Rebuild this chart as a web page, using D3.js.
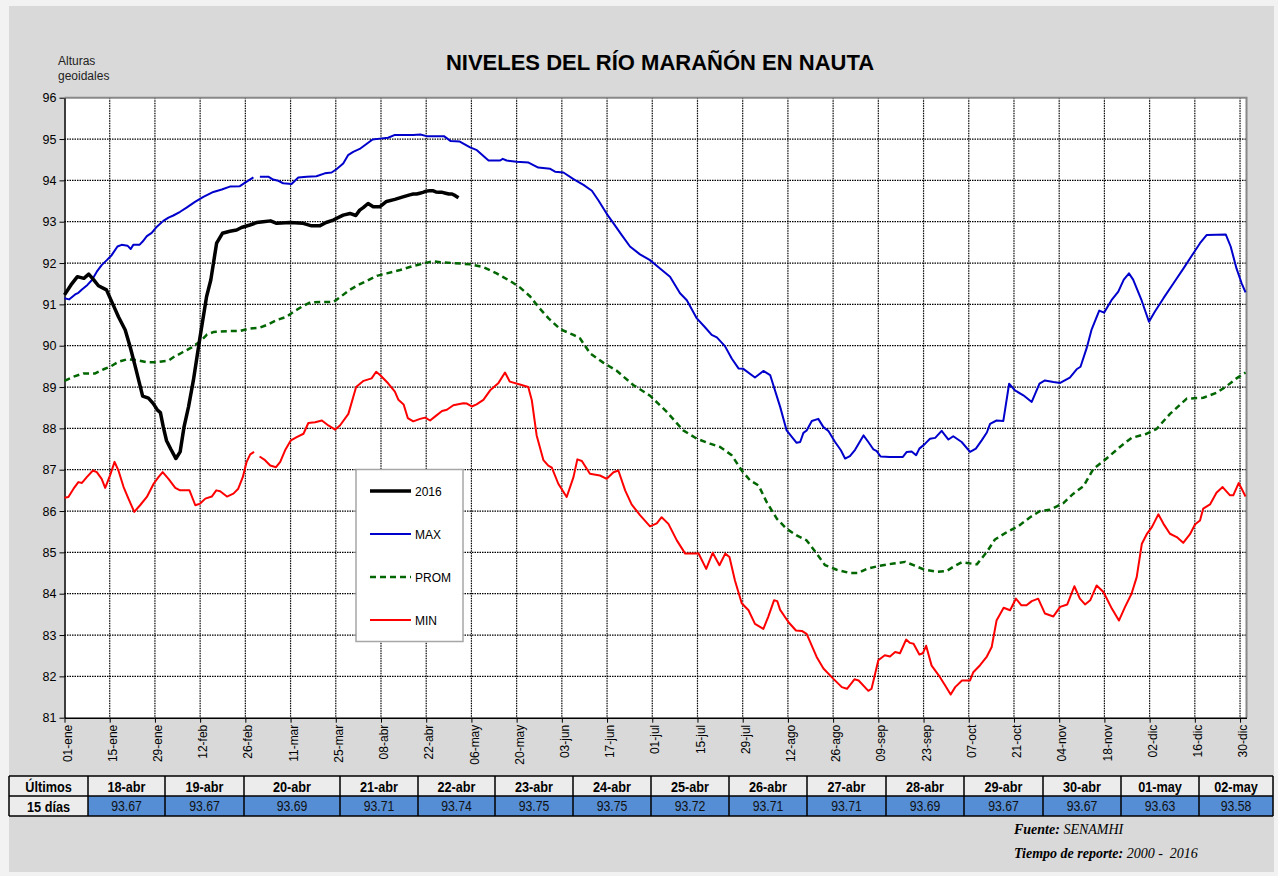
<!DOCTYPE html>
<meta charset="utf-8">
<html>
<head>
<script src="https://d3js.org/d3.v7.min.js"></script>
<style>
  body { margin: 0; background: #f2f2f2; }
  svg text { font-family: "Liberation Sans", Arial, sans-serif; }
</style>
</head>
<body>
<svg width="1278" height="876"></svg>
<script>

// x tick labels, one every 14 days (day 0 = 01-ene, leap year)
var tickLabels = ["01-ene","15-ene","29-ene","12-feb","26-feb","11-mar","25-mar","08-abr","22-abr",
  "06-may","20-may","03-jun","17-jun","01-jul","15-jul","29-jul","12-ago","26-ago","09-sep","23-sep",
  "07-oct","21-oct","04-nov","18-nov","02-dic","16-dic","30-dic"];

// last 15 days table
var tableDates = ["18-abr","19-abr","20-abr","21-abr","22-abr","23-abr","24-abr","25-abr","26-abr",
  "27-abr","28-abr","29-abr","30-abr","01-may","02-may"];
var tableDays = [108,109,110,111,112,113,114,115,116,117,118,119,120,121,122];
var tableValues = [93.67,93.67,93.69,93.71,93.74,93.75,93.75,93.72,93.71,93.71,93.69,93.67,93.67,93.63,93.58];

// 2016 levels (day, value), before the table period
var obs2016 = [[0,91.23],[2,91.47],[4,91.67],[6,91.63],[7.5,91.73],[9,91.6],[10.5,91.45],[13,91.35],
  [15,91.0],[16.7,90.7],[18.8,90.38],[20.3,89.98],[21.9,89.5],[24.2,88.78],[26,88.73],[27.5,88.6],
  [28.8,88.44],[29.7,88.38],[30.6,88.03],[31.6,87.7],[32.9,87.5],[34.5,87.27],[35.8,87.43],[37,88.03],
  [38.4,88.52],[39.9,89.16],[42,90.22],[44,91.19],[45.3,91.59],[47.1,92.48],[48.9,92.72],[51.2,92.77],
  [53.3,92.8],[54.8,92.86],[57.4,92.92],[59.5,92.98],[61.5,93.0],[63.8,93.02],[65.7,92.96],[69.8,92.98],
  [73.9,92.96],[76.5,92.9],[79,92.9],[81,92.98],[83.2,93.04],[86.3,93.16],[88.4,93.2],[90.2,93.15],
  [91.4,93.28],[92.5,93.34],[94,93.44],[95.6,93.36],[97.6,93.36],[99.7,93.49],[102.3,93.54],
  [104.8,93.6],[106.9,93.65]];

var maxPts = [[0,91.15],[1.4,91.12],[3.3,91.24],[4.3,91.28],[5.4,91.36],[7.1,91.47],[8.5,91.59],[10,91.79],
  [11.5,91.95],[13.1,92.07],[14.6,92.19],[16.4,92.4],[17.7,92.44],[19.5,92.42],[20.5,92.34],[21.3,92.44],
  [23.2,92.44],[24.2,92.52],[25.5,92.65],[27,92.73],[28.6,92.88],[30.6,93.02],[32.2,93.1],[33.7,93.15],
  [35.8,93.24],[37.8,93.34],[40.4,93.48],[43,93.6],[46.1,93.72],[48.7,93.78],[51.2,93.85],[54.3,93.86],
  [56.4,93.97],[58.5,94.07],[59,null],[60.5,94.09],[63.1,94.09],[64.6,94.02],[66.2,93.99],[67.7,93.93],
  [70.3,93.91],[72.4,94.07],[75,94.09],[78,94.1],[80.6,94.17],[82.7,94.19],[84.2,94.27],[86.3,94.41],
  [87.8,94.61],[89.4,94.69],[91.4,94.76],[93.5,94.88],[95.4,94.99],[97.6,95.01],[100.2,95.03],
  [102.3,95.1],[105.4,95.1],[108,95.1],[110.2,95.11],[112.1,95.07],[117.5,95.07],[119.6,94.95],
  [122.4,94.94],[125.6,94.8],[127.7,94.73],[131.3,94.48],[134.9,94.48],[135.7,94.52],[136.9,94.48],
  [140,94.45],[143.7,94.43],[146.7,94.31],[150.4,94.28],[151.9,94.21],[154.5,94.19],[157.6,94.03],
  [160.7,93.89],[163.3,93.75],[165.3,93.52],[167.9,93.19],[170,92.96],[172.5,92.68],[175.1,92.4],
  [178.2,92.21],[181.3,92.07],[184.4,91.87],[187.5,91.67],[190.6,91.27],[192.7,91.1],[195.8,90.66],
  [198.4,90.44],[200.4,90.26],[202,90.2],[204.5,89.99],[206.6,89.69],[208.7,89.45],[210.2,89.44],
  [213.8,89.23],[216.4,89.39],[218.5,89.29],[221.6,88.52],[223.6,87.95],[226.7,87.65],[227.8,87.67],
  [228.8,87.89],[229.8,87.95],[231.4,88.18],[233.4,88.23],[235,88.03],[236.5,87.94],[238.6,87.67],
  [240.4,87.47],[241.7,87.27],[243.2,87.33],[244.8,87.48],[247.4,87.83],[248.9,87.67],[250.5,87.49],
  [251.5,87.45],[252.7,87.32],[255.6,87.31],[259.6,87.31],[260.8,87.43],[262.3,87.44],[263.7,87.35],
  [264.7,87.51],[266.5,87.63],[268,87.75],[269.6,87.77],[271.6,87.94],[273.7,87.73],[275.2,87.81],
  [277.8,87.67],[280.4,87.43],[282.2,87.51],[284,87.71],[285.6,87.9],[286.6,88.11],[288.6,88.19],
  [290.7,88.18],[292.5,89.08],[294.3,88.92],[296.9,88.8],[299.5,88.64],[301.9,89.08],[303.6,89.16],
  [306.2,89.12],[308.3,89.1],[311.3,89.23],[313.4,89.43],[314.6,89.49],[316.5,89.94],[318,90.38],
  [320.4,90.85],[321.9,90.8],[324.2,91.1],[326.3,91.31],[328,91.6],[329.6,91.75],[330.9,91.6],
  [333.5,91.1],[335.8,90.58],[337.6,90.82],[340.3,91.15],[343.4,91.51],[346.5,91.87],[349.5,92.23],
  [351.6,92.48],[353.7,92.68],[359.6,92.69],[361.1,92.4],[362.9,91.87],[364.5,91.51],[365.7,91.29]];

var promPts = [[0,89.15],[2.8,89.25],[5.9,89.33],[9.5,89.33],[12.1,89.43],[14.1,89.49],[16.7,89.61],
  [19.3,89.67],[22.4,89.65],[25.5,89.6],[28.1,89.6],[32.2,89.64],[33.7,89.72],[36.3,89.83],[39.4,89.96],
  [42,90.1],[44.1,90.27],[46.1,90.33],[50.3,90.35],[54.4,90.36],[57,90.41],[60.6,90.44],[62.6,90.5],
  [65.7,90.62],[68.8,90.7],[70.9,90.82],[73.4,90.94],[76.1,91.05],[79.1,91.06],[83.3,91.06],[85.3,91.17],
  [87.9,91.33],[91,91.47],[93.6,91.57],[96.7,91.69],[99.8,91.75],[103.9,91.83],[108,91.93],[112.2,92.01],
  [114.2,92.04],[116.3,92.02],[120.4,92.0],[125.6,91.97],[129.7,91.9],[133.8,91.75],[137.9,91.57],
  [141,91.41],[144.2,91.19],[146.7,90.94],[149.9,90.66],[153.5,90.4],[157.6,90.26],[159.6,90.18],
  [162.8,89.81],[166.8,89.59],[170.9,89.4],[176.1,89.05],[181.3,88.79],[186.5,88.4],[191.6,87.95],
  [195.8,87.75],[199.9,87.63],[203,87.55],[206.6,87.35],[209.7,86.98],[212.3,86.74],[214.9,86.62],
  [217.4,86.22],[220.6,85.81],[223.6,85.57],[226.7,85.41],[229.8,85.29],[232.9,84.97],[235.5,84.69],
  [239.1,84.58],[243.2,84.5],[245.8,84.5],[248.4,84.6],[252,84.67],[256.7,84.73],[260.3,84.77],
  [262.9,84.69],[266,84.59],[270,84.53],[273.2,84.55],[275.2,84.65],[277.8,84.76],[282.5,84.71],
  [285.6,85.01],[288.1,85.31],[291.8,85.49],[295.3,85.63],[299,85.85],[302.1,86.0],[305.1,86.03],
  [309.3,86.19],[312.4,86.42],[315.5,86.6],[318.6,87.02],[322.2,87.24],[326.8,87.55],[330.4,87.77],
  [335.1,87.87],[338.2,87.99],[342.3,88.35],[347.5,88.72],[352.6,88.74],[356.7,88.86],[359.8,89.02],
  [362.9,89.21],[365.7,89.35]];

var minPts = [[0,86.32],[1.2,86.34],[2.8,86.54],[4.3,86.7],[5.4,86.68],[6.9,86.82],[8.8,86.98],[10,86.94],
  [11.5,86.78],[12.6,86.56],[14.1,86.86],[15.5,87.19],[16.7,86.98],[18.3,86.58],[19.8,86.3],[21.6,85.98],
  [23.4,86.14],[25.5,86.34],[27.6,86.66],[29.1,86.82],[30.4,86.94],[32.2,86.78],[34.3,86.56],[35.8,86.5],
  [38.7,86.5],[40.5,86.14],[42,86.18],[43.6,86.3],[45.6,86.35],[47,86.5],[48.2,86.48],[50.3,86.35],
  [52.3,86.42],[53.8,86.54],[55.2,86.82],[56.4,87.19],[57.5,87.37],[58.7,87.43],[59,null],[60.4,87.32],
  [62.1,87.23],[63.7,87.1],[65.5,87.06],[66.8,87.19],[68.3,87.47],[70.1,87.71],[71.9,87.79],[74,87.87],
  [75.5,88.13],[77.6,88.15],[79.7,88.19],[81.7,88.07],[83.8,87.97],[85.3,88.07],[87.9,88.35],[90.3,89.0],
  [92.6,89.15],[95.1,89.21],[96.5,89.37],[97.7,89.29],[100.2,89.09],[102.3,88.89],[103.4,88.69],
  [105,88.58],[106.3,88.25],[108,88.17],[110.1,88.23],[111.7,88.26],[113.2,88.19],[114.8,88.29],
  [116.9,88.42],[118.4,88.45],[120.4,88.56],[123.5,88.61],[124.6,88.6],[126.1,88.53],[127.6,88.58],
  [129.7,88.69],[131.8,88.92],[134.4,89.1],[136.4,89.35],[137.9,89.13],[141,89.06],[143.6,89.0],
  [144.7,88.68],[146.2,87.83],[148.3,87.23],[149.8,87.1],[150.9,87.05],[152.9,86.66],[155.5,86.34],
  [157.6,86.82],[158.8,87.25],[160.2,87.21],[162.7,86.9],[165.8,86.86],[167.9,86.78],[170,86.94],
  [171.5,86.98],[173.6,86.5],[175.6,86.16],[178.2,85.9],[181.3,85.63],[183.4,85.7],[184.9,85.85],
  [187,85.69],[189.6,85.29],[192.2,84.97],[195.3,84.97],[196.3,84.98],[198.7,84.6],[200.7,84.99],
  [202.8,84.69],[204.6,84.97],[205.9,84.89],[207.6,84.32],[209.7,83.77],[211.8,83.6],[213.8,83.27],
  [216.4,83.15],[217.9,83.44],[219.7,83.84],[220.7,83.82],[221.6,83.61],[224.2,83.31],[226.5,83.11],
  [228.3,83.1],[229.3,83.05],[229.8,83.03],[232.9,82.47],[235,82.19],[238.1,81.94],[240.7,81.74],
  [242.3,81.7],[244.6,81.93],[245.9,81.9],[248.9,81.65],[249.9,81.7],[252,82.39],[254,82.51],
  [255.6,82.48],[257.2,82.59],[258.7,82.56],[260.6,82.89],[261.8,82.81],[262.9,82.79],[264.7,82.53],
  [265.8,82.56],[266.8,82.74],[268.5,82.26],[271.1,81.98],[272.7,81.78],[274.4,81.56],[275.8,81.74],
  [277.9,81.9],[280.4,81.9],[281.4,82.1],[283.5,82.27],[285.6,82.48],[287.1,82.71],[288.6,83.35],
  [290.8,83.66],[292.8,83.6],[294.6,83.88],[296.3,83.72],[297.9,83.72],[299.5,83.82],[301.5,83.88],
  [303.6,83.52],[306.2,83.45],[308.3,83.68],[310.5,83.74],[312.7,84.18],[314.4,83.88],[316,83.74],
  [317.6,83.84],[319.6,84.2],[321.7,84.04],[324.3,83.64],[326.5,83.35],[328.4,83.68],[330.4,84.0],
  [332,84.4],[333.6,85.21],[335.1,85.44],[336.7,85.61],[338.7,85.92],[340.3,85.69],[342.3,85.45],
  [344.4,85.37],[346.4,85.23],[348.5,85.44],[350.1,85.68],[351.6,85.77],[352.6,86.06],[354.7,86.16],
  [356.7,86.44],[358.6,86.58],[360.9,86.38],[361.9,86.38],[363.6,86.68],[365.7,86.35]];

var seriesNames = ["2016","MAX","PROM","MIN"];
var seriesColors = ["#000000","#0000cc","#006600","#ff0000"];

var svg = d3.select("svg");
var plot = {left: 64.5, right: 1246.5, top: 97.7, bottom: 717.7};

svg.append("rect").attr("x", 9).attr("y", 6).attr("width", 1265).attr("height", 866).attr("fill", "#d9d9d9");

var x = d3.scaleLinear().domain([0, 366]).range([plot.left, plot.right]);
var y = d3.scaleLinear().domain([81, 96]).range([plot.bottom, plot.top]);

svg.append("rect")
    .attr("x", plot.left).attr("y", plot.top)
    .attr("width", plot.right - plot.left).attr("height", plot.bottom - plot.top)
    .attr("fill", "#fff");

// grid
var tickDays = tickLabels.map(function(d, i) { return i * 14; });
svg.append("g").selectAll("line")
    .data(d3.range(82, 96))
    .enter().append("line")
      .attr("x1", plot.left).attr("x2", plot.right)
      .attr("y1", function(d) { return y(d); }).attr("y2", function(d) { return y(d); })
      .attr("stroke", "#000").attr("stroke-width", 1.2).attr("stroke-dasharray", "1.5,1");
svg.append("g").selectAll("line")
    .data(tickDays.slice(1))
    .enter().append("line")
      .attr("x1", function(d) { return x(d); }).attr("x2", function(d) { return x(d); })
      .attr("y1", plot.top).attr("y2", plot.bottom)
      .attr("stroke", "#000").attr("stroke-width", 1.2).attr("stroke-dasharray", "1.5,1");

// frame top / right
svg.append("path")
    .attr("d", "M" + plot.left + "," + plot.top + "H" + plot.right + "V" + plot.bottom)
    .attr("fill", "none").attr("stroke", "#888").attr("stroke-width", 2);

// axes
var yAxis = svg.append("g")
    .attr("transform", "translate(" + plot.left + ",0)")
    .call(d3.axisLeft(y).tickValues(d3.range(81, 97)).tickSize(5).tickSizeOuter(0));
yAxis.selectAll("text").style("font-size", "12.5px").attr("fill", "#000");
yAxis.select(".domain").attr("stroke", "#000").attr("stroke-width", 1.5);

var xAxis = svg.append("g")
    .attr("transform", "translate(0," + plot.bottom + ")")
    .call(d3.axisBottom(x).tickValues(tickDays).tickSize(5).tickSizeOuter(0)
      .tickFormat(function(d, i) { return tickLabels[i]; }));
xAxis.select(".domain").attr("stroke", "#000").attr("stroke-width", 1.5);
xAxis.selectAll("text")
    .style("font-size", "12px").attr("fill", "#000")
    .attr("transform", "rotate(-90)")
    .attr("x", -7).attr("y", 0).attr("dy", "0.55em")
    .style("text-anchor", "end");

// series
var line = d3.line()
    .defined(function(d) { return d[1] != null; })
    .x(function(d) { return x(d[0]); })
    .y(function(d) { return y(d[1]); });

var series2016 = obs2016.concat(tableDays.map(function(d, i) { return [d, tableValues[i]]; }));

var styles = [
  {width: 3.5, dash: null},
  {width: 2, dash: null},
  {width: 2.5, dash: "6,4"},
  {width: 2, dash: null}
];
var allSeries = [series2016, maxPts, promPts, minPts];

[3, 2, 1, 0].forEach(function(k) {
  svg.append("path")
      .datum(allSeries[k])
      .attr("fill", "none")
      .attr("stroke", seriesColors[k])
      .attr("stroke-width", styles[k].width)
      .attr("stroke-dasharray", styles[k].dash)
      .attr("stroke-linejoin", "round")
      .attr("d", line);
});

// legend
var legend = svg.append("g");
legend.append("rect")
    .attr("x", 356).attr("y", 469.5).attr("width", 107).attr("height", 172)
    .attr("fill", "#fff").attr("stroke", "#a6a6a6").attr("stroke-width", 1.5);
seriesNames.forEach(function(name, i) {
  var ly = 491 + i * 43;
  legend.append("line")
      .attr("x1", 370).attr("x2", 411).attr("y1", ly).attr("y2", ly)
      .attr("stroke", seriesColors[i])
      .attr("stroke-width", styles[i].width)
      .attr("stroke-dasharray", styles[i].dash);
  legend.append("text")
      .attr("x", 415).attr("y", ly + 4.5)
      .style("font-size", "12px")
      .text(name);
});

// titles
svg.append("text")
    .attr("x", 660).attr("y", 70)
    .attr("text-anchor", "middle")
    .style("font-size", "22px").style("font-weight", "bold")
    .text("NIVELES DEL RÍO MARAÑÓN EN NAUTA");
svg.append("text").attr("x", 58).attr("y", 65).style("font-size", "12px").attr("fill", "#222").text("Alturas");
svg.append("text").attr("x", 58).attr("y", 80).style("font-size", "12px").attr("fill", "#222").text("geoidales");

// table of last 15 days
var colEdges = [9, 88, 165, 244, 340, 418, 495, 573, 651, 729, 807, 886, 964, 1043, 1121, 1199, 1273];
var rowTop = 776, rowMid = 796, rowBot = 816;
var table = svg.append("g");

table.append("rect").attr("x", colEdges[0]).attr("y", rowTop)
    .attr("width", colEdges[16] - colEdges[0]).attr("height", rowMid - rowTop).attr("fill", "#ececec");
table.append("rect").attr("x", colEdges[0]).attr("y", rowMid)
    .attr("width", colEdges[1] - colEdges[0]).attr("height", rowBot - rowMid).attr("fill", "#ececec");
table.append("rect").attr("x", colEdges[1]).attr("y", rowMid)
    .attr("width", colEdges[16] - colEdges[1]).attr("height", rowBot - rowMid).attr("fill", "#558ed5");

// condensed text, like Arial Narrow
function cell(cx, cy, txt, bold, size) {
  table.append("text")
      .attr("transform", "translate(" + cx + "," + cy + ") scale(0.82,1)")
      .attr("text-anchor", "middle")
      .style("font-size", size + "px")
      .style("font-weight", bold ? "bold" : "normal")
      .attr("fill", bold ? "#000" : "#111")
      .text(txt);
}
cell((colEdges[0] + colEdges[1]) / 2, rowTop + 15.5, "Últimos", true, 15.5);
cell((colEdges[0] + colEdges[1]) / 2, rowMid + 15.5, "15 días", true, 15.5);
tableDates.forEach(function(d, i) {
  var cx = (colEdges[i + 1] + colEdges[i + 2]) / 2;
  cell(cx, rowTop + 15.5, d, true, 15.5);
  cell(cx, rowMid + 15, d3.format(".2f")(tableValues[i]), false, 15);
});

// grid lines of the table
var tpath = "M" + colEdges[0] + "," + rowTop + "H" + colEdges[16] +
            "M" + colEdges[0] + "," + rowMid + "H" + colEdges[16] +
            "M" + colEdges[0] + "," + rowBot + "H" + colEdges[16];
colEdges.forEach(function(cx) { tpath += "M" + cx + "," + rowTop + "V" + rowBot; });
table.append("path").attr("d", tpath).attr("fill", "none").attr("stroke", "#000").attr("stroke-width", 1.5);

// source notes
var serif = "'Liberation Serif', 'Times New Roman', serif";
var note1 = svg.append("text").attr("x", 1014).attr("y", 834)
    .style("font-family", serif).style("font-size", "14px").style("font-style", "italic");
note1.append("tspan").style("font-weight", "bold").text("Fuente: ");
note1.append("tspan").text("SENAMHI");
var note2 = svg.append("text").attr("x", 1014).attr("y", 858)
    .style("font-family", serif).style("font-size", "14px").style("font-style", "italic");
note2.append("tspan").style("font-weight", "bold").text("Tiempo de reporte: ");
note2.append("tspan").style("white-space", "pre").text("2000 -  2016");

</script>
</body>
</html>
